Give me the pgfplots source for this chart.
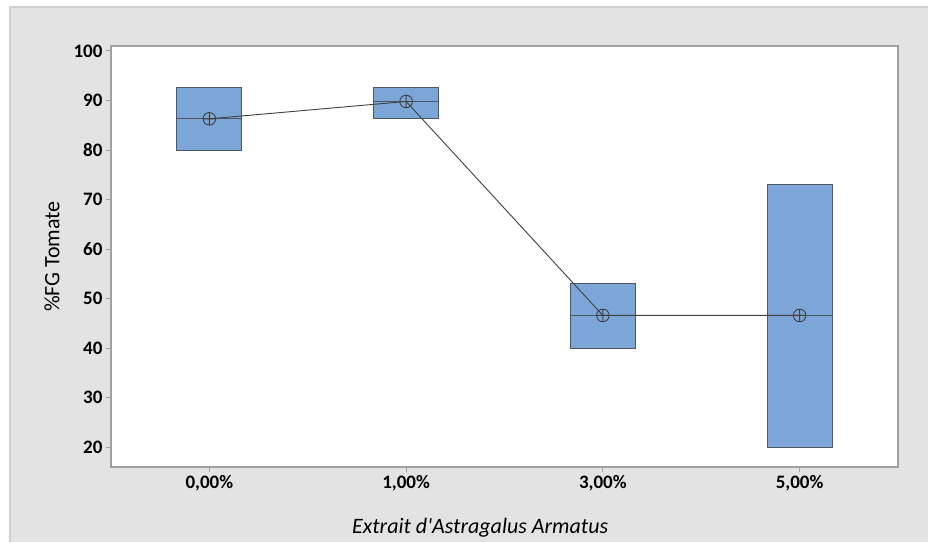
\documentclass[border=0pt]{standalone}
\usepackage{pgfplots}
\pgfplotsset{compat=1.18}
\usepackage{fontspec}
\setmainfont{Carlito}
\newfontfamily\plainfont{Carlito}
\definecolor{bg}{RGB}{227,227,227}
\definecolor{frameline}{RGB}{208,208,208}
\definecolor{boxfill}{RGB}{124,166,216}
\definecolor{boxedge}{RGB}{78,88,100}
\definecolor{axgray}{RGB}{160,160,160}
\definecolor{meanline}{RGB}{64,64,64}
\begin{document}
\begin{tikzpicture}
\useasboundingbox (-111pt,-75pt) rectangle (817pt,467pt);
\fill[bg] (-101pt,-75pt) rectangle (817pt,460pt);
\draw[frameline, line width=1.2pt] (-101pt,-75pt) -- (-101pt,460pt) -- (817pt,460pt);
\begin{axis}[
  scale only axis, width=787pt, height=421pt,
  xmin=-0.5, xmax=3.5, ymin=16, ymax=101,
  axis background/.style={fill=white},
  axis line style={axgray, line width=1.2pt},
  xtick={0,1,2,3},
  xticklabels={{0,00\%},{1,00\%},{3,00\%},{5,00\%}},
  ytick={20,30,...,100},
  tick align=outside, tick pos=left,
  major tick length=5pt,
  tick style={axgray, line width=1pt},
  /pgf/number format/assume math mode=true,
  tick label style={font=\fontsize{19}{19}\selectfont\bfseries, text=black},
  ylabel={\%FG Tomate},
  xlabel={Extrait d'Astragalus Armatus},
  every axis y label/.style={at={(axis description cs:-0.075,0.5)}, rotate=90, anchor=center, font=\fontsize{22}{22}\selectfont},
  every axis x label/.style={at={(axis description cs:0.469,-0.157)}, anchor=base, inner sep=0pt, font=\fontsize{22}{22}\plainfont\itshape},
  boxst/.style={fill=boxfill, draw=boxedge, line width=1pt},
  medst/.style={draw=boxedge, line width=1pt},
]
% boxes (min to max of 3 replicates)
\addplot[boxst] coordinates {(-0.165,80) (0.165,80) (0.165,92.7) (-0.165,92.7)} -- cycle;
\addplot[boxst] coordinates {(0.835,86.3) (1.165,86.3) (1.165,92.7) (0.835,92.7)} -- cycle;
\addplot[boxst] coordinates {(1.835,40) (2.165,40) (2.165,53.0) (1.835,53.0)} -- cycle;
\addplot[boxst] coordinates {(2.835,20) (3.165,20) (3.165,73.0) (2.835,73.0)} -- cycle;
% medians
\addplot[medst] coordinates {(-0.165,86.3) (0.165,86.3)};
\addplot[medst] coordinates {(0.835,89.7) (1.165,89.7)};
\addplot[medst] coordinates {(1.835,46.6) (2.165,46.6)};
\addplot[medst] coordinates {(2.835,46.6) (3.165,46.6)};
% means
\addplot[meanline, line width=0.9pt, mark=oplus, mark size=6.3pt, mark options={line width=0.9pt, fill=none}] coordinates {(0,86.3) (1,89.8) (2,46.6) (3,46.6)};
\end{axis}
\end{tikzpicture}
\end{document}
